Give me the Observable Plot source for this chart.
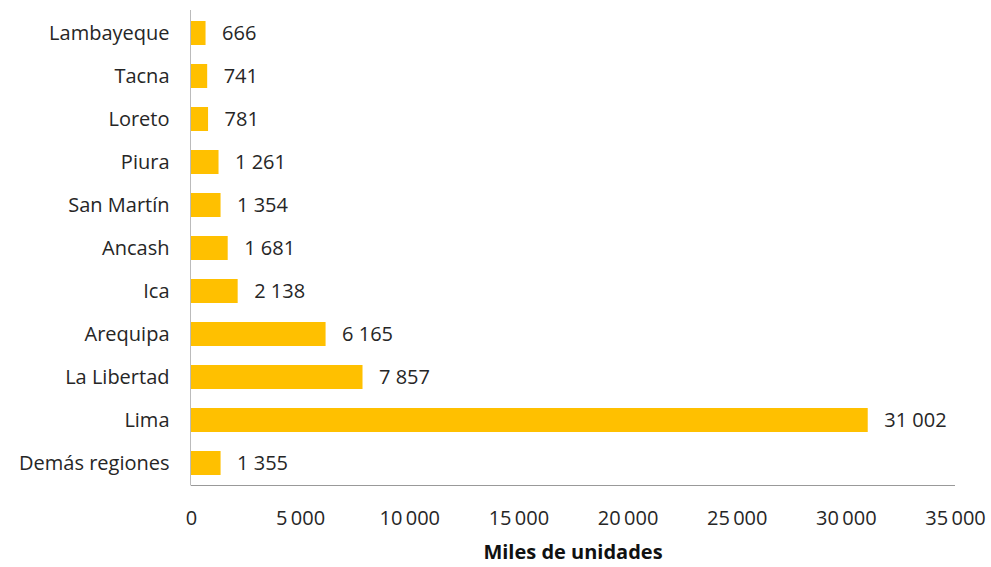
<!DOCTYPE html>
<html><head><meta charset="utf-8">
<script src="https://cdn.jsdelivr.net/npm/d3@7"></script>
<script src="https://cdn.jsdelivr.net/npm/@observablehq/plot@0.6"></script>
<style>body{margin:0;background:#fff;font-family:"Open Sans",sans-serif}</style>
</head><body><div id="chart"></div>
<script>
const regions = ["Lambayeque","Tacna","Loreto","Piura","San Martín","Ancash","Ica","Arequipa","La Libertad","Lima","Demás regiones"];
const values = [666,741,781,1261,1354,1681,2138,6165,7857,31002,1355];
const xTicks = [0,5000,10000,15000,20000,25000,30000,35000];
const data = regions.map((r,i)=>({region:r,value:values[i]}));
const fmt = v => d3.format(",")(v).replace(/,/g,"\u2009");
const fmtLabel = v => d3.format(",")(v).replace(/,/g,"\u00a0");
const chart = Plot.plot({
  width: 991, height: 567,
  marginLeft: 191, marginRight: 36, marginTop: 12, marginBottom: 82,
  style: {fontFamily: "Open Sans", fontSize: "20px", color: "#262626"},
  x: {domain: [0,35000], ticks: xTicks, tickFormat: fmt, tickSize: 0, tickPadding: 25, label: null},
  y: {domain: regions, paddingInner: 0.44, paddingOuter: 0.22, tickSize: 0, tickPadding: 22, label: null},
  marks: [
    Plot.barX(data, {x: "value", y: "region", fill: "#FFC000"}),
    Plot.text(data, {x: "value", y: "region", text: d => fmtLabel(d.value), textAnchor: "start", dx: 16, fontSize: 20, fill: "#262626"})
  ]
});
const svg = d3.select(chart);
svg.append("line").attr("x1",191).attr("x2",955).attr("y1",485.5).attr("y2",485.5).attr("stroke","#999");
svg.append("line").attr("x1",190.5).attr("x2",190.5).attr("y1",10).attr("y2",485.5).attr("stroke","#bbb");
svg.append("text").attr("x",573).attr("y",559).attr("text-anchor","middle").attr("font-weight","bold").attr("font-size","20px").attr("fill","#111").text("Miles de unidades");
document.getElementById("chart").appendChild(chart);
</script></body></html>
